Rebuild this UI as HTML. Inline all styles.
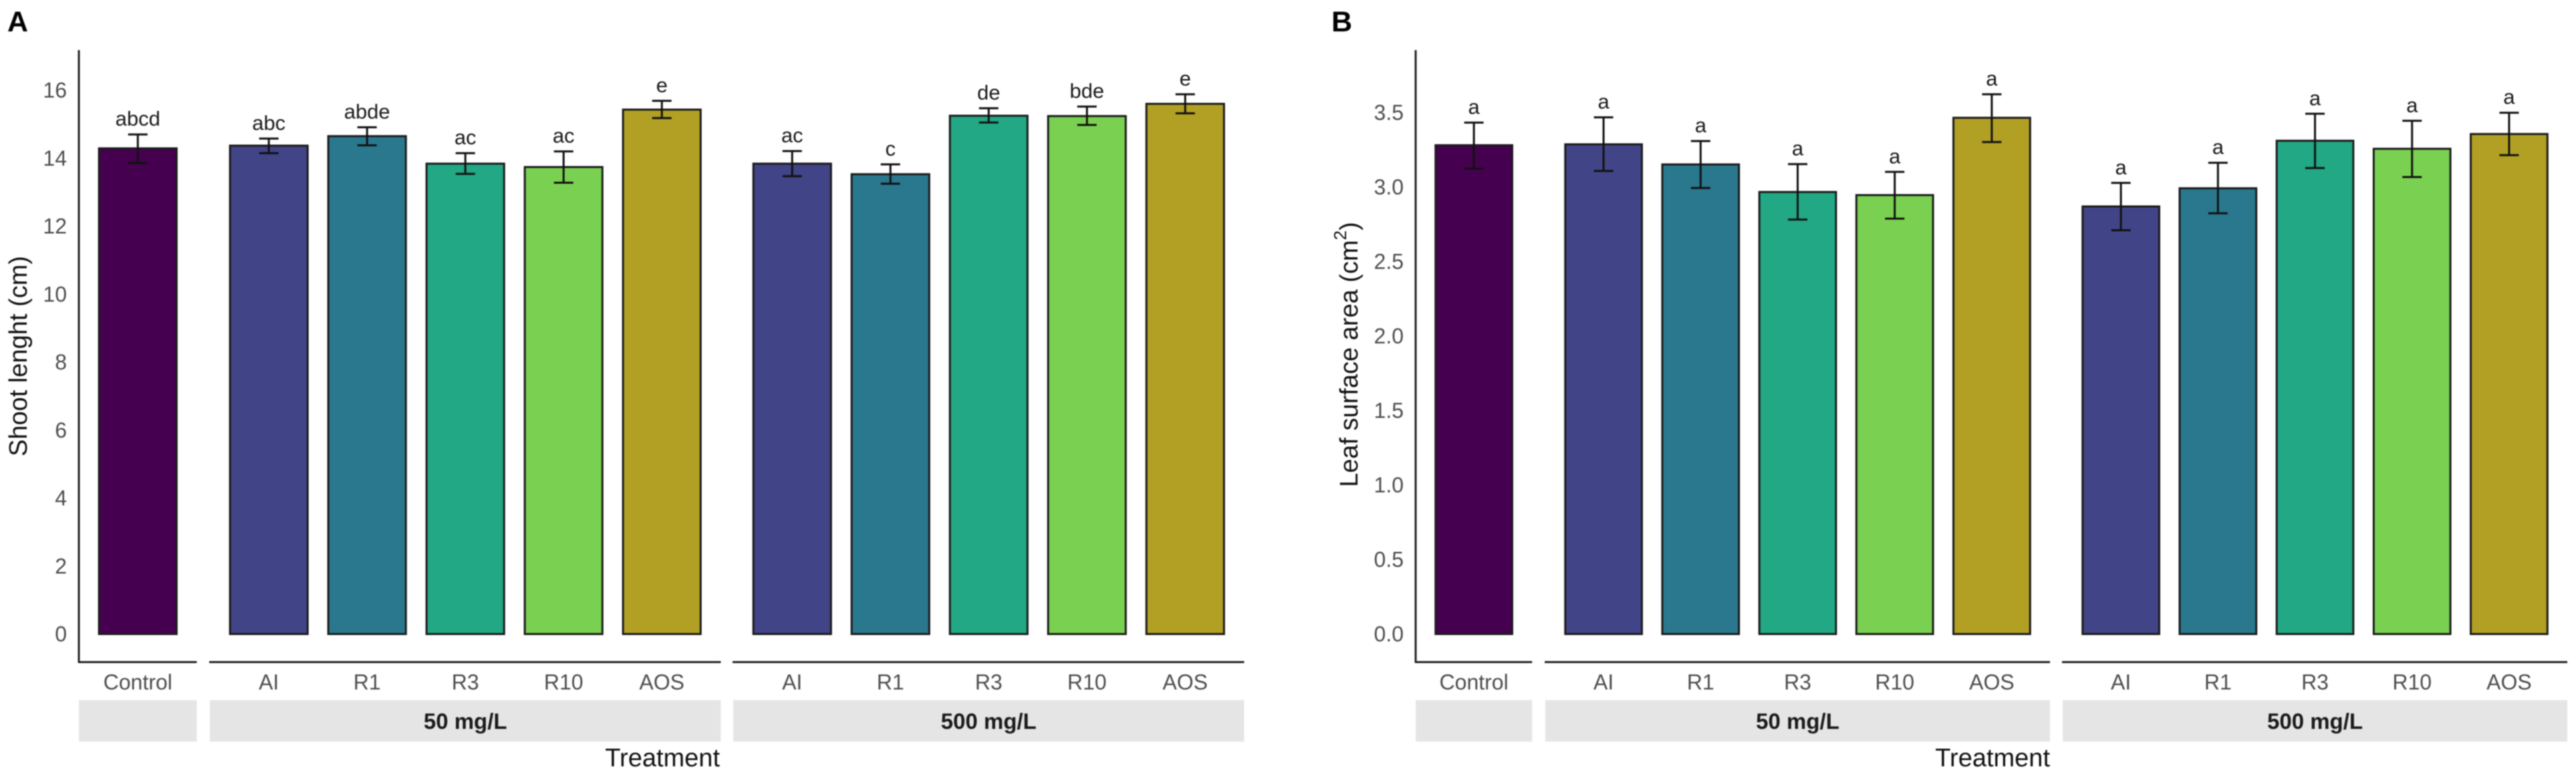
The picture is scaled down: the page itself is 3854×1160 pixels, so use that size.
<!DOCTYPE html>
<html lang="en">
<head>
<meta charset="utf-8">
<title>Shoot length and leaf surface area by treatment</title>
<style>
  html, body { margin: 0; padding: 0; background: #ffffff; }
  #figure { display: block; width: 3854px; height: 1160px; font-family: "Liberation Sans", Arial, sans-serif; filter: blur(0.7px); }
</style>
</head>
<body>
<svg id="figure" xmlns="http://www.w3.org/2000/svg" width="3854" height="1160" viewBox="0 0 3854 1160">
  <rect x="0" y="0" width="3854" height="1160" fill="#ffffff"/>
  <g id="panel-a">
    <text x="11" y="47" font-size="43" font-weight="700" fill="#000">A</text>
    <text transform="translate(40 683) rotate(-90)" font-size="38" fill="#111">Shoot lenght (cm)</text>
    <text x="1077" y="1147" text-anchor="end" font-size="38" fill="#111">Treatment</text>
  </g>
  <g id="panel-b">
    <text x="1992" y="47" font-size="43" font-weight="700" fill="#000">B</text>
    <text transform="translate(2031 729) rotate(-90)" font-size="38" fill="#111">Leaf surface area (cm<tspan font-size="26" dy="-17">2</tspan><tspan dy="17">)</tspan></text>
    <text x="3067" y="1147" text-anchor="end" font-size="38" fill="#111">Treatment</text>
  </g>
</svg>
<script>
// Shared categories
const categories = ['Control', 'AI', 'R1', 'R3', 'R10', 'AOS', 'AI', 'R1', 'R3', 'R10', 'AOS'];
const facetOfBar = [0, 1, 1, 1, 1, 1, 2, 2, 2, 2, 2];
const facetLabels = ['', '50 mg/L', '500 mg/L'];
const barColors = ['#45014f', '#414487', '#2a788e', '#22a884', '#7ad151', '#b2a025', '#414487', '#2a788e', '#22a884', '#7ad151', '#b2a025'];

// Panel A: shoot length
const shootMeans = [14.29, 14.37, 14.65, 13.84, 13.74, 15.43, 13.84, 13.53, 15.25, 15.24, 15.60];
const shootErrHigh = [14.70, 14.58, 14.91, 14.15, 14.20, 15.69, 14.21, 13.82, 15.47, 15.52, 15.88];
const shootErrLow = [13.86, 14.15, 14.38, 13.54, 13.28, 15.18, 13.47, 13.25, 15.05, 14.98, 15.32];
const shootLetters = ['abcd', 'abc', 'abde', 'ac', 'ac', 'e', 'ac', 'c', 'de', 'bde', 'e'];
const shootTicks = ['0', '2', '4', '6', '8', '10', '12', '14', '16'];

// Panel B: leaf surface area
const leafMeans = [3.281, 3.287, 3.152, 2.967, 2.946, 3.465, 2.870, 2.992, 3.311, 3.257, 3.356];
const leafErrHigh = [3.433, 3.468, 3.309, 3.154, 3.102, 3.623, 3.028, 3.163, 3.492, 3.445, 3.499];
const leafErrLow = [3.124, 3.108, 2.994, 2.782, 2.788, 3.302, 2.710, 2.824, 3.128, 3.067, 3.214];
const leafLetters = ['a', 'a', 'a', 'a', 'a', 'a', 'a', 'a', 'a', 'a', 'a'];
const leafTicks = ['0.0', '0.5', '1.0', '1.5', '2.0', '2.5', '3.0', '3.5'];

const SVG_NS = 'http://www.w3.org/2000/svg';

function make(parent, tag, attrs, text) {
  const node = document.createElementNS(SVG_NS, tag);
  for (const key in attrs) node.setAttribute(key, attrs[key]);
  if (text !== undefined) node.textContent = text;
  parent.appendChild(node);
  return node;
}

function drawPanel(groupId, prefix, means, errHigh, errLow, letters, ticks, layout) {
  const group = document.getElementById(groupId);
  const yScale = function (value) { return layout.zeroY - value * layout.pxPerUnit; };
  const facetWidth = function (facet) {
    return (facetOfBar.filter(function (f) { return f === facet; }).length + 0.2) * layout.step;
  };
  const slotOf = function (index) {
    return facetOfBar.slice(0, index).filter(function (f) { return f === facetOfBar[index]; }).length;
  };
  const xScale = function (index) {
    return layout.facetLeft[facetOfBar[index]] + (slotOf(index) + 0.6) * layout.step;
  };

  // Y axis line
  const yAxis = make(group, 'line', { x1: layout.facetLeft[0], x2: layout.facetLeft[0], y1: 75, y2: 992, stroke: '#222', 'stroke-width': 3 });
  
  

  // Y tick labels
  ticks.forEach(function (label) {
    const tick = make(group, 'text', { x: layout.tickRight, y: yScale(Number(label)) + 11, 'text-anchor': 'end', 'font-size': 32, fill: '#4d4d4d' }, label);
    
    
  });

  // Facet axis segments, strips and strip labels
  layout.facetLeft.forEach(function (left, facet) {
    const width = facetWidth(facet);
    const axisSegment = make(group, 'line', { x1: left - 1, x2: left + width, y1: 991, y2: 991, stroke: '#222', 'stroke-width': 3 });
    
    

    const strip = make(group, 'rect', { x: left, y: 1048, width: width, height: 62, fill: '#e5e5e5' });
    
    

    if (facetLabels[facet]) {
      const stripLabel = make(group, 'text', { x: left + width / 2, y: 1091, 'text-anchor': 'middle', 'font-size': 33, 'font-weight': 700, fill: '#1a1a1a' }, facetLabels[facet]);
      
      
    }
  });

  // Bars, error bars, letters, category labels
  means.forEach(function (value, i) {
    const cx = xScale(i);
    const barWidth = layout.step * 0.79;

    const bar = make(group, 'rect', { x: cx - barWidth / 2, y: yScale(value), width: barWidth, height: yScale(0) - yScale(value), fill: barColors[i], stroke: '#1a1a1a', 'stroke-width': 3 });
    
    

    const stem = make(group, 'line', { x1: cx, x2: cx, y1: yScale(errHigh[i]), y2: yScale(errLow[i]), stroke: '#111', 'stroke-width': 3 });
    
    

    const capTop = make(group, 'line', { x1: cx - 14.5, x2: cx + 14.5, y1: yScale(errHigh[i]), y2: yScale(errHigh[i]), stroke: '#111', 'stroke-width': 3 });
    
    

    const capBottom = make(group, 'line', { x1: cx - 14.5, x2: cx + 14.5, y1: yScale(errLow[i]), y2: yScale(errLow[i]), stroke: '#111', 'stroke-width': 3 });
    
    

    const letter = make(group, 'text', { x: cx, y: yScale(errHigh[i]) - 13, 'text-anchor': 'middle', 'font-size': 31, fill: '#1a1a1a' }, letters[i]);
    
    

    const category = make(group, 'text', { x: cx, y: 1032, 'text-anchor': 'middle', 'font-size': 32, fill: '#4d4d4d' }, categories[i]);
    
    
  });
}

drawPanel('panel-a', 'panel-a', shootMeans, shootErrHigh, shootErrLow, shootLetters, shootTicks, {
  facetLeft: [118, 314, 1097], step: 147, zeroY: 949, pxPerUnit: 50.87, tickRight: 100
});
drawPanel('panel-b', 'panel-b', leafMeans, leafErrHigh, leafErrLow, leafLetters, leafTicks, {
  facetLeft: [2118, 2312, 3086], step: 145.2, zeroY: 949, pxPerUnit: 223, tickRight: 2100
});
</script>
</body>
</html>
